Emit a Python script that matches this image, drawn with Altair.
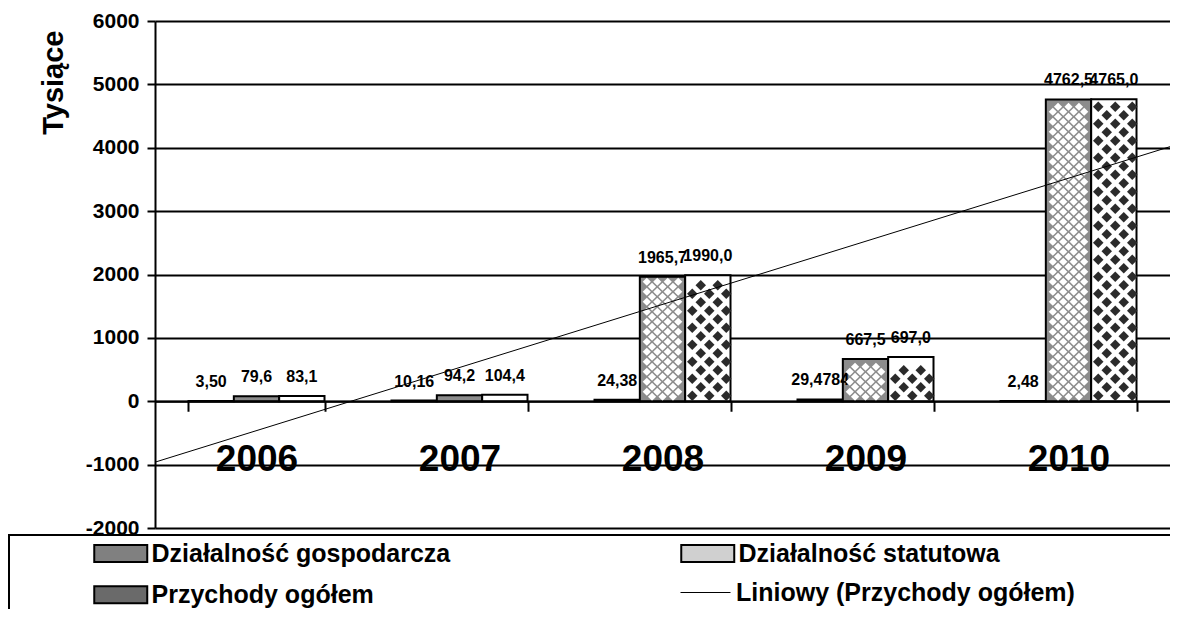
import altair as alt
import pandas as pd

FONT = "Liberation Sans, Arial, sans-serif"

years = ["2006", "2007", "2008", "2009", "2010"]
series_names = ["Działalność gospodarcza", "Działalność statutowa", "Przychody ogółem"]
gospodarcza = [3.50, 10.16, 24.38, 29.4784, 2.48]
statutowa = [79.6, 94.2, 1965.7, 667.5, 4762.5]
przychody = [83.1, 104.4, 1990.0, 697.0, 4765.0]
gospodarcza_lbl = ["3,50", "10,16", "24,38", "29,4784", "2,48"]
statutowa_lbl = ["79,6", "94,2", "1965,7", "667,5", "4762,5"]
przychody_lbl = ["83,1", "104,4", "1990,0", "697,0", "4765,0"]
trend_name = "Liniowy (Przychody ogółem)"
y_ticks = [-2000, -1000, 0, 1000, 2000, 3000, 4000, 5000, 6000]

rows = []
for name, vals, lbls in zip(series_names, [gospodarcza, statutowa, przychody],
                            [gospodarcza_lbl, statutowa_lbl, przychody_lbl]):
    for i, (y, v, l) in enumerate(zip(years, vals, lbls)):
        rows.append({"year": y, "idx": i + 1, "series": name, "value": v, "label": l})
df = pd.DataFrame(rows)
trend_df = pd.DataFrame({"idx": list(range(1, 6)), "value": przychody})

W, H = 1015, 507
Y_MIN, Y_MAX = -2000, 6000
PX = H / (Y_MAX - Y_MIN)      # pixels per unit, used only for hatch spacing
LEG_FS = 25

y_enc = alt.Y("value:Q", title="Tysiące",
              scale=alt.Scale(domain=[Y_MIN, Y_MAX], nice=False, zero=False),
              axis=alt.Axis(values=y_ticks, labelExpr="datum.value + ''",
                            titleFont=FONT, titleFontSize=29, titleFontWeight="bold",
                            titleColor="black", titleAnchor="end", titlePadding=17,
                            titleY=9,
                            labelFont=FONT, labelFontSize=21, labelFontWeight="bold",
                            labelColor="black", labelPadding=8,
                            tickSize=8, tickColor="black", tickWidth=2,
                            domainColor="black", domainWidth=2,
                            grid=True, gridColor="black", gridWidth=2))

x_enc = alt.X("year:N",
              scale=alt.Scale(paddingInner=0.33, paddingOuter=0.165),
              axis=alt.Axis(title=None, orient="bottom", offset=-H * 2000 / 8000,
                            labelAngle=0, labelFont=FONT, labelFontSize=37,
                            labelFontWeight="bold", labelColor="black", labelPadding=30,
                            tickBand="extent", tickSize=10, tickColor="black", tickWidth=2,
                            domainColor="black", domainWidth=2, zindex=1))

sym_path = "M-2,-0.64H2V0.64H-2Z"
xoff = alt.XOffset("series:N", sort=series_names,
                   scale=alt.Scale(domain=series_names, paddingInner=0, paddingOuter=0))

# bars: fill is the background of each hatch pattern
bars = alt.Chart(df).mark_bar(stroke="black", strokeWidth=2).encode(
    x=x_enc,
    xOffset=xoff,
    y=y_enc,
    y2=alt.datum(0),
    fill=alt.Fill("series:N", legend=None,
                  scale=alt.Scale(domain=series_names,
                                  range=["#808080", "#8c8c8c", "#ffffff"])),
)

# legend only (no visible marks)
legend_layer = alt.Chart(df).transform_filter("false").mark_bar().encode(
    x=alt.X("year:N"),
    xOffset=xoff,
    y=alt.Y("value:Q", title="Tysiące"),
    fill=alt.Fill("series:N",
                  scale=alt.Scale(domain=series_names,
                                  range=["#808080", "#d0d0d0", "#6a6a6a"]),
                  legend=alt.Legend(orient="none", legendX=-48.75, legendY=517.75,
                                    direction="horizontal", columns=2, title=None,
                                    padding=0, symbolType=sym_path, symbolSize=702,
                                    symbolStrokeColor="black", symbolStrokeWidth=2,
                                    symbolOpacity=1, labelOffset=16.25,
                                    labelFont=FONT, labelFontSize=LEG_FS,
                                    labelFontWeight="bold", labelColor="black",
                                    labelLimit=0, columnPadding=227, rowPadding=13.5)),
)

labels = alt.Chart(df).mark_text(font=FONT, fontSize=16, fontWeight="bold",
                                 baseline="alphabetic", dy=-14, color="black").encode(
    x=alt.X("year:N"),
    xOffset=xoff,
    y=alt.Y("value:Q", title="Tysiące"),
    text="label:N",
)

bar_group = alt.layer(bars, legend_layer, labels).resolve_scale(fill="independent")


def hatch_layer(series, slots, step_px, start_px, top_px, row_a, row_b, color, size):
    """Diamond hatch drawn inside the bars of one series (sub-slots of the bar)."""
    sidx = series_names.index(series)
    step_u, start_u, top_u = step_px / PX, start_px / PX, top_px / PX
    return alt.Chart(df).transform_filter(
        alt.datum.series == series
    ).transform_filter(
        f"datum.value > {2 * step_u}"
    ).transform_calculate(
        ys=f"sequence({start_u}, datum.value - {top_u}, {step_u})"
    ).transform_flatten(["ys"]).transform_calculate(
        row=f"round((datum.ys - {start_u}) / {step_u}) % 2"
    ).transform_calculate(
        cols=f"datum.row == 0 ? {row_a} : {row_b}"
    ).transform_flatten(["cols"]).transform_calculate(
        slot=f"{sidx * slots} + datum.cols"
    ).mark_point(shape="diamond", filled=True, size=size, color=color,
                 opacity=1, strokeWidth=0).encode(
        x=alt.X("year:N"),
        xOffset=alt.XOffset("slot:O",
                            scale=alt.Scale(domain=list(range(3 * slots)),
                                            paddingInner=0, paddingOuter=0)),
        y=alt.Y("ys:Q", title="Tysiące"),
    )


cross = hatch_layer("Działalność statutowa", 9, 5, 4.5, 4.4,
                    [2, 4, 6], [1, 3, 5, 7], "white", 67)
dots = hatch_layer("Przychody ogółem", 11, 8.5, 5.5, 5.0,
                   [1, 5, 9], [3, 7], "#2b2b2b", 110)

inner = alt.layer(bar_group, cross, dots).resolve_scale(
    fill="independent", xOffset="independent")

trend = alt.Chart(trend_df).transform_regression(
    "idx", "value", extent=[0.5, 5.5]
).transform_calculate(
    s=f"'{trend_name}'"
).mark_line(strokeWidth=1).encode(
    x=alt.X("idx:Q", scale=alt.Scale(domain=[0.5, 5.5], nice=False, zero=False), axis=None),
    y=alt.Y("value:Q", title="Tysiące"),
    stroke=alt.Stroke("s:N", scale=alt.Scale(domain=[trend_name], range=["black"]),
                      legend=alt.Legend(orient="none", legendX=525, legendY=546,
                                        title=None, padding=0, symbolType="stroke",
                                        symbolSize=2500, symbolStrokeWidth=1,
                                        labelOffset=5, labelFont=FONT, labelFontSize=LEG_FS,
                                        labelFontWeight="bold", labelColor="black",
                                        labelLimit=0)),
)

box = alt.Chart(pd.DataFrame({"a": [0]})).mark_rect(
    fill="white", stroke="black", strokeWidth=2
).encode(x=alt.value(-146), x2=alt.value(1100), y=alt.value(514), y2=alt.value(700))

chart = alt.layer(box, inner, trend).resolve_scale(
    x="independent", stroke="independent", fill="independent"
).properties(
    width=W, height=H,
    autosize=alt.AutoSizeParams(type="none"),
    padding={"left": 147, "top": 13, "right": 0, "bottom": 81},
    background="white",
).configure_view(stroke=None)

chart.save("out.html", embed_options={"renderer": "svg", "actions": False})
